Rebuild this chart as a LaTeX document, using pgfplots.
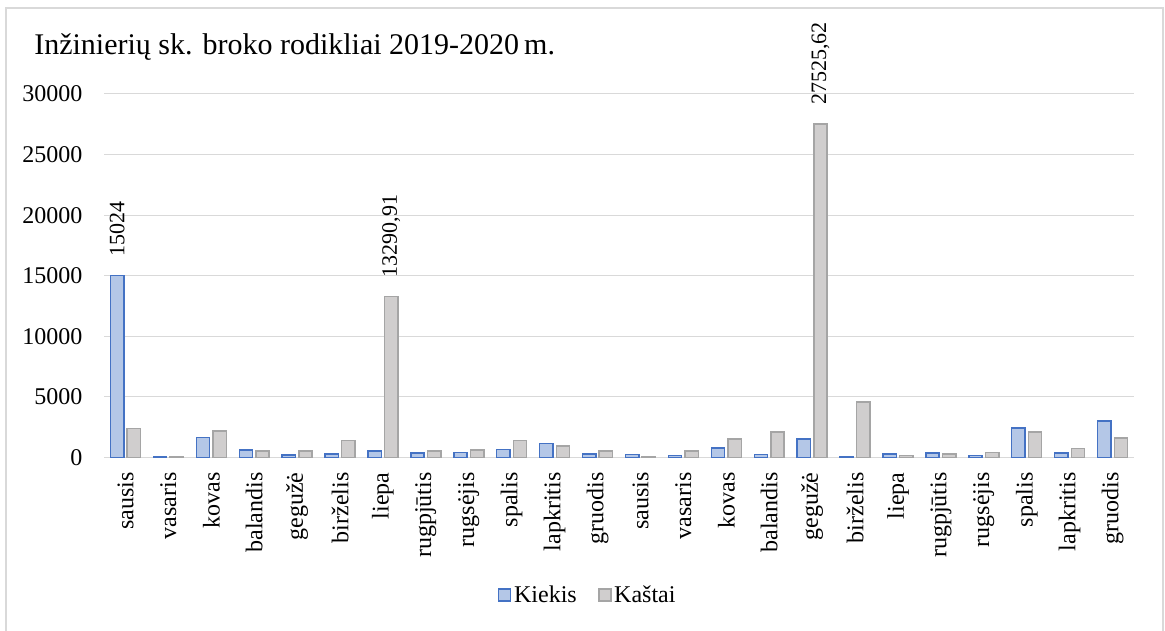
\documentclass[border=0pt]{standalone}
\usepackage{pgfplots}
\pgfplotsset{compat=1.18}
\usepackage{pgfplotstable}
\usepackage{fontspec}
\setmainfont{Liberation Serif}

\definecolor{kiekisFill}{HTML}{B4C7E7}
\definecolor{kiekisLine}{HTML}{4472C4}
\definecolor{kastaiFill}{HTML}{D0CECE}
\definecolor{kastaiLine}{HTML}{A5A5A5}
\definecolor{gridGray}{HTML}{D9D9D9}

% month index, value, data label (only the largest values are labelled)
\pgfplotstableread{
x y lbl
0 15024 15024
1 80 {}
2 1650 {}
3 605 {}
4 190 {}
5 300 {}
6 520 {}
7 360 {}
8 410 {}
9 660 {}
10 1155 {}
11 300 {}
12 250 {}
13 165 {}
14 800 {}
15 250 {}
16 1510 {}
17 80 {}
18 300 {}
19 360 {}
20 165 {}
21 2450 {}
22 360 {}
23 3025 {}
}\kiekis

\pgfplotstableread{
x y lbl
0 2400 {}
1 50 {}
2 2200 {}
3 520 {}
4 520 {}
5 1400 {}
6 13290.91 {13290,91}
7 550 {}
8 630 {}
9 1400 {}
10 935 {}
11 520 {}
12 80 {}
13 520 {}
14 1510 {}
15 2090 {}
16 27525.62 {27525,62}
17 4565 {}
18 165 {}
19 300 {}
20 410 {}
21 2090 {}
22 740 {}
23 1620 {}
}\kastai

\begin{document}
\begin{tikzpicture}[x=0.75bp,y=0.75bp]
\useasboundingbox (0,0) rectangle (1165,630);
% outer chart frame
\draw[gridGray, line width=1.1bp] (6,-5) -- (6,622) -- (1163,622) -- (1163,-5);
% chart title
\node[anchor=base west, inner sep=0pt] at (34,575.4)
  {\fontsize{22.5bp}{27bp}\selectfont Inžinierių sk. broko rodikliai 2019-2020\,m.};
\begin{axis}[
  at={(78bp,129.375bp)}, anchor=south west,
  scale only axis,
  width=772.5bp, height=272.625bp,
  ybar,
  bar width=0.31,
  xmin=-0.5, xmax=23.5,
  ymin=0, ymax=30000,
  enlarge x limits=false,
  clip=false,
  xtick={0,...,23},
  xticklabels={sausis,vasaris,kovas,balandis,gegužė,birželis,liepa,rugpjūtis,rugsėjis,spalis,lapkritis,gruodis,
               sausis,vasaris,kovas,balandis,gegužė,birželis,liepa,rugpjūtis,rugsėjis,spalis,lapkritis,gruodis},
  ytick={0,5000,...,30000},
  scaled y ticks=false,
  /pgf/number format/.cd, fixed, 1000 sep={}, assume math mode=true,
  /pgfplots/.cd,
  major tick length=0pt,
  tick style={draw=none},
  ymajorgrids,
  grid style={gridGray, line width=0.75bp},
  axis x line*=bottom,
  axis y line*=left,
  x axis line style={-, gridGray, line width=0.75bp},
  y axis line style={draw=none},
  tick label style={font=\fontsize{18bp}{21bp}\selectfont},
  xticklabel style={rotate=90, anchor=east, inner sep=0pt},
  xticklabel shift=11bp,
  yticklabel style={anchor=east, inner sep=0pt, xshift=-16bp},
  point meta=explicit symbolic,
  nodes near coords,
  nodes near coords style={rotate=90, anchor=west, inner sep=0pt, inner xsep=14bp,
    font=\fontsize{16.5bp}{20bp}\selectfont},
  legend columns=2,
  legend style={at={(0.47,-0.378)}, anchor=center, draw=none,
    font=\fontsize{18bp}{21bp}\selectfont,
    /tikz/every even column/.append style={column sep=14bp}},
  legend image code/.code={\draw[#1, line width=1.1bp] (0bp,-4.5bp) rectangle (9bp,4.5bp);},
]
\addplot[bar shift=-0.194, fill=kiekisFill, draw=kiekisLine, line width=1.1bp]
  table[x=x, y=y, meta=lbl] {\kiekis};
\addplot[bar shift=0.194, fill=kastaiFill, draw=kastaiLine, line width=1.1bp]
  table[x=x, y=y, meta=lbl] {\kastai};
\legend{Kiekis, Kaštai}
\end{axis}
\end{tikzpicture}
\end{document}
